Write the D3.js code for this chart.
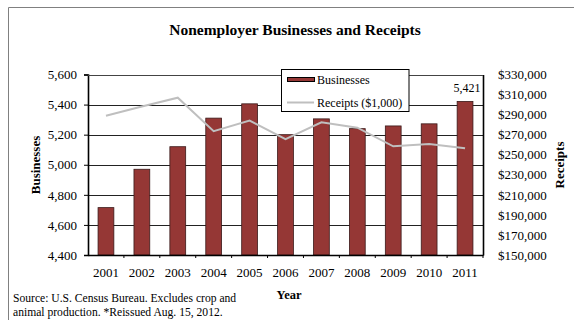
<!DOCTYPE html>
<html><head><meta charset="utf-8">
<script src="https://cdn.jsdelivr.net/npm/d3@7"></script>
<style>
html,body{margin:0;padding:0;background:#fff;}
text{font-family:"Liberation Serif","Times New Roman",serif;fill:#000;}
</style></head>
<body>
<svg id="c" width="574" height="320"></svg>
<script>
const years = ["2001","2002","2003","2004","2005","2006","2007","2008","2009","2010","2011"];
const businesses = [4715, 4970, 5120, 5310, 5405, 5200, 5305, 5240, 5258, 5272, 5421];
const receipts = [288900, 298000, 306900, 273500, 284000, 265500, 282300, 277000, 258400, 260700, 256400];
const leftTicks = [4400, 4600, 4800, 5000, 5200, 5400, 5600];
const rightTicks = [150000, 170000, 190000, 210000, 230000, 250000, 270000, 290000, 310000, 330000];
const labelYear = "2011", labelText = "5,421";

const svg = d3.select("#c");
const L = 88, R = 483, T = 74.5, B = 255;
const barColor = "#953735", lineColor = "#bfbfbf";

const x = d3.scaleBand().domain(years).range([L, R]).paddingInner(0).paddingOuter(0);
const yL = d3.scaleLinear().domain([4400, 5600]).range([B, T]);
const yR = d3.scaleLinear().domain([150000, 330000]).range([B, T]);

// outer frame
svg.append("line").attr("x1", 8.5).attr("x2", 574).attr("y1", 7.5).attr("y2", 7.5).attr("stroke", "#808080");
svg.append("line").attr("x1", 8.5).attr("x2", 8.5).attr("y1", 7.5).attr("y2", 320).attr("stroke", "#808080");

// title
svg.append("text").attr("x", 295).attr("y", 35).attr("text-anchor", "middle")
  .attr("font-size", 15.5).attr("font-weight", "bold").text("Nonemployer Businesses and Receipts");

// gridlines
svg.append("g").selectAll("line").data(leftTicks.slice(1)).join("line")
  .attr("x1", L).attr("x2", R).attr("y1", d => Math.round(yL(d)) + 0.5).attr("y2", d => Math.round(yL(d)) + 0.5)
  .attr("stroke", "#222").attr("stroke-width", 1);

// bars
const bw = x.bandwidth() * 0.44;
svg.append("g").selectAll("rect").data(years).join("rect")
  .attr("x", (d) => x(d) + (x.bandwidth() - bw) / 2)
  .attr("y", (d, i) => yL(businesses[i]))
  .attr("width", bw)
  .attr("height", (d, i) => B - yL(businesses[i]))
  .attr("fill", barColor).attr("stroke", "#3a1a1a").attr("stroke-width", 0.8);

// receipts line
const line = d3.line().x((d, i) => x(years[i]) + x.bandwidth() / 2).y(d => yR(d));
svg.append("path").datum(receipts).attr("d", line).attr("fill", "none")
  .attr("stroke", lineColor).attr("stroke-width", 2);

// axes
const gl = svg.append("g").attr("transform", `translate(${L},0)`)
  .call(d3.axisLeft(yL).tickValues(leftTicks).tickFormat(d3.format(",")).tickSize(4).tickPadding(7));
gl.select(".domain").attr("stroke", "#000").attr("stroke-width", 1.6);
gl.selectAll(".tick line").attr("stroke", "#000");
gl.selectAll("text").attr("font-size", 13).attr("font-family", "Liberation Serif");

const gr = svg.append("g").attr("transform", `translate(${R},0)`)
  .call(d3.axisRight(yR).tickValues(rightTicks).tickFormat(d => "$" + d3.format(",")(d)).tickSize(0).tickPadding(15));
gr.select(".domain").attr("stroke", "#000").attr("stroke-width", 1.6);
gr.selectAll("text").attr("font-size", 13).attr("font-family", "Liberation Serif");

const gb = svg.append("g").attr("transform", `translate(0,${B})`)
  .call(d3.axisBottom(x).tickSize(0).tickPadding(13));
gb.select(".domain").attr("stroke", "#000").attr("stroke-width", 1.6);
gb.selectAll("text").attr("font-size", 13).attr("font-family", "Liberation Serif");
// category boundary ticks
svg.append("g").selectAll("line").data(years.slice(1).concat(["end"])).join("line")
  .attr("x1", d => d === "end" ? R : x(d)).attr("x2", d => d === "end" ? R : x(d))
  .attr("y1", B).attr("y2", B + 3).attr("stroke", "#000");

// top border of plot
svg.append("line").attr("x1", L).attr("x2", R).attr("y1", Math.round(T) + 0.5).attr("y2", Math.round(T) + 0.5)
  .attr("stroke", "#444");

// data label
const li = years.indexOf(labelYear);
svg.append("text").attr("x", x(labelYear) + x.bandwidth() / 2 + 2).attr("y", yL(businesses[li]) - 9)
  .attr("text-anchor", "middle").attr("font-size", 12).text(labelText);

// axis titles
svg.append("text").attr("transform", "translate(40,165) rotate(-90)").attr("text-anchor", "middle")
  .attr("font-size", 13).attr("font-weight", "bold").text("Businesses");
svg.append("text").attr("transform", "translate(564,165) rotate(-90)").attr("text-anchor", "middle")
  .attr("font-size", 13).attr("font-weight", "bold").text("Receipts");
svg.append("text").attr("x", 289).attr("y", 299).attr("text-anchor", "middle")
  .attr("font-size", 12.5).attr("font-weight", "bold").text("Year");

// source
svg.append("text").attr("x", 13).attr("y", 302).attr("font-size", 11.6).text("Source: U.S. Census Bureau. Excludes crop and");
svg.append("text").attr("x", 13).attr("y", 315.5).attr("font-size", 11.6).text("animal production. *Reissued Aug. 15, 2012.");

// legend
const lg = svg.append("g");
lg.append("rect").attr("x", 281.5).attr("y", 69.5).attr("width", 127.5).attr("height", 42)
  .attr("fill", "#fff").attr("stroke", "#000").attr("stroke-width", 1);
lg.append("rect").attr("x", 287.5).attr("y", 77.5).attr("width", 27).attr("height", 4)
  .attr("fill", barColor).attr("stroke", "#000").attr("stroke-width", 1);
lg.append("text").attr("x", 317).attr("y", 84).attr("font-size", 12).text("Businesses");
lg.append("line").attr("x1", 287).attr("x2", 314).attr("y1", 102.5).attr("y2", 102.5)
  .attr("stroke", lineColor).attr("stroke-width", 2);
lg.append("text").attr("x", 317).attr("y", 107).attr("font-size", 12).text("Receipts ($1,000)");
</script>
</body></html>
